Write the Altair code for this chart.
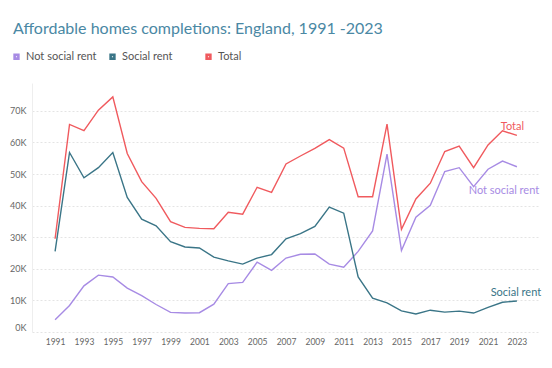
import altair as alt
import pandas as pd

years = list(range(1991, 2024))
not_social = [3.9, 8.4, 14.6, 18.0, 17.4, 13.9, 11.5, 8.7, 6.2, 6.0, 6.1, 8.8, 15.3, 15.7, 22.1, 19.5,
              23.4, 24.6, 24.7, 21.5, 20.5, 25.5, 32.0, 56.3, 25.8, 36.3, 40.1, 50.8, 52.0, 46.0, 51.5, 54.1, 52.3]
social = [25.5, 56.8, 48.8, 52.0, 56.8, 42.6, 35.7, 33.6, 28.6, 26.9, 26.6, 23.7, 22.5, 21.5, 23.4, 24.5,
          29.5, 31.1, 33.4, 39.5, 37.6, 17.4, 10.7, 9.2, 6.7, 5.7, 6.9, 6.3, 6.6, 6.0, 7.8, 9.4, 9.8]
total = [29.5, 65.7, 63.7, 70.2, 74.4, 56.5, 47.6, 42.3, 34.9, 33.1, 32.8, 32.7, 37.9, 37.3, 45.8, 44.2,
         53.2, 55.7, 58.1, 60.9, 58.2, 42.8, 42.8, 65.8, 32.5, 42.1, 47.1, 57.1, 58.8, 52.0, 59.2, 63.7, 62.2]

series_names = ["Not social rent", "Social rent", "Total"]
series_colors = ["#a78be4", "#3a7587", "#f05a5e"]
x_ticks = list(range(1991, 2024, 2))
y_ticks = [0, 10000, 20000, 30000, 40000, 50000, 60000, 70000]

rows = []
for name, vals in zip(series_names, [not_social, social, total]):
    for yr, v in zip(years, vals):
        rows.append({"year": yr, "series": name, "value": v * 1000})
df = pd.DataFrame(rows)

FONT = "Lato"

x = alt.X("year:Q", scale=alt.Scale(domain=[1989.4, 2024.6], nice=False, zero=False),
          axis=alt.Axis(values=x_ticks, tickCount=40, format="d", title=None, grid=False, domain=False,
                        ticks=False, labelFontSize=8.5, labelColor="#666666", labelPadding=5,
                        labelFont=FONT, labelOverlap=False))
y = alt.Y("value:Q", scale=alt.Scale(domain=[0, 78800], nice=False),
          axis=alt.Axis(values=y_ticks, tickCount=20, labelExpr="datum.value/1000 + 'K'", title=None,
                        ticks=False, domain=True, domainColor="#eeeeee", grid=True, gridColor="#e4e4e4",
                        gridDash=[2, 2], labelFontSize=9, labelColor="#666666", labelPadding=6,
                        labelFlush=True, labelOverlap=False, labelFont=FONT))
color = alt.Color("series:N", scale=alt.Scale(domain=series_names, range=series_colors),
                  legend=alt.Legend(title=None, orient="none", legendX=-21, legendY=-32,
                                    direction="horizontal", columns=3, gridAlign="all",
                                    columnPadding=8, symbolType="square", symbolSize=14,
                                    symbolStrokeWidth=2.6, labelFontSize=11, labelColor="#555555",
                                    labelOffset=4, padding=0, labelFont=FONT))

lines = alt.Chart(df).mark_line(strokeWidth=1.4).encode(x=x, y=y, color=color)

last = df[df["year"] == 2023]
label_specs = [("Total", -4.5, -8), ("Not social rent", -13, 24), ("Social rent", -1, -8)]
layers = [lines]
for name, dx, dy in label_specs:
    c = series_colors[series_names.index(name)]
    layers.append(
        alt.Chart(last[last["series"] == name]).mark_text(
            dx=dx, dy=dy, align="center", baseline="middle", fontSize=11, font=FONT, color=c
        ).encode(x="year:Q", y="value:Q", text="series:N")
    )

chart = alt.layer(*layers).properties(
    width=508, height=249,
    title=alt.TitleParams("Affordable homes completions: England, 1991 -2023", anchor="start",
                          frame="group", dx=-19, offset=1, fontSize=16, font=FONT,
                          fontWeight="normal", color="#4a88a4", baseline="alphabetic"),
    autosize=alt.AutoSizeParams(type="none"),
    padding={"left": 24, "top": 75, "right": 4, "bottom": 28},
).configure_view(stroke=None)

chart.save("out.html", embed_options={"renderer": "svg", "actions": False})
